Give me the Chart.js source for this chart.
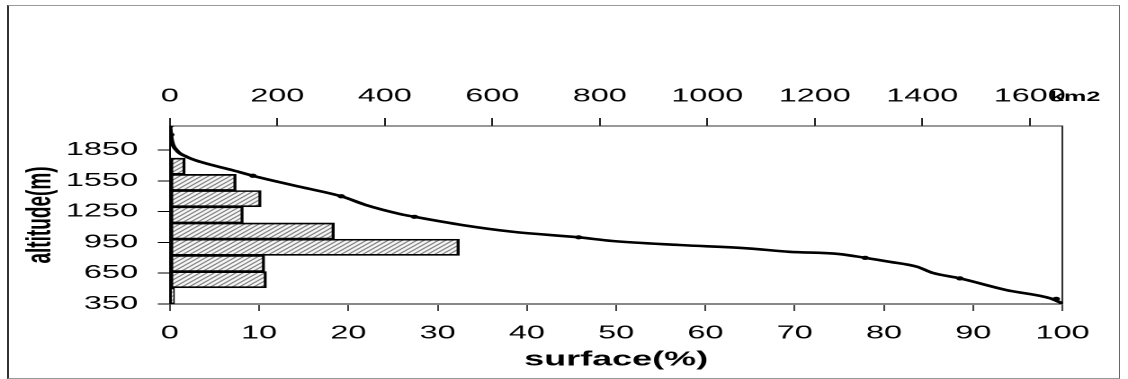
<!DOCTYPE html>
<html>
<head>
<meta charset="utf-8">
<script src="https://cdn.jsdelivr.net/npm/chart.js@4.4.1/dist/chart.umd.min.js"></script>
<style>
  html, body { margin: 0; padding: 0; background: #fff; overflow: hidden; }
  #wrap { position: relative; width: 1128px; height: 379px; }
  /* the original figure is stretched sideways, so the canvas is too */
  #chartHypso { position: absolute; left: 0; top: 0; transform: scaleX(1.79904); transform-origin: 0 0; }
  #frame {
    position: absolute; left: 7px; top: 5px; width: 1113px; height: 374px; box-sizing: border-box;
    border: 1px solid #999; border-left: 2px solid #333; border-right-color: #666; pointer-events: none;
  }
</style>
</head>
<body>
<div id="wrap">
  <canvas id="chartHypso" width="627" height="379"></canvas>
  <div id="frame"></div>
</div>
<script>
// histogram: mid altitude of each band (m) and share of surface (%)
const BAND_ALT = [429, 587, 745, 903, 1061, 1219, 1377, 1535, 1693];
const BAND_PCT = [0.5, 10.8, 10.6, 32.4, 18.4, 8.2, 10.2, 7.4, 1.7];

// hypsometric curve: cumulated surface (%) above altitude (m)
const CURVE_PCT = [0, 0.2, 0.75, 1.9, 3.4, 7.0, 9.3, 14.6, 19.2, 22.0, 25.8, 27.4, 32.8, 38.4,
  45.8, 49.6, 57.1, 64.6, 69.4, 75.0, 77.9, 80.6, 83.7, 85.4, 88.5, 93.7, 98.6, 100];
const CURVE_ALT = [2085, 1947, 1850, 1785, 1736, 1655, 1600, 1492, 1400, 1314, 1227, 1200, 1119, 1054,
  1000, 964, 925, 893, 859, 837, 800, 762, 713, 655, 600, 486, 406, 355];

// measured points shown as dots on the curve
const MARK_PCT = [0, 0.1, 9.3, 19.2, 27.4, 45.8, 77.9, 88.5, 99.3, 100];
const MARK_ALT = [2085, 2000, 1600, 1400, 1200, 1000, 800, 600, 400, 355];

const ALT_TICKS = [350, 650, 950, 1250, 1550, 1850];
const PCT_TICKS = [0, 10, 20, 30, 40, 50, 60, 70, 80, 90, 100];
const KM2_TICKS = [0, 200, 400, 600, 800, 1000, 1200, 1400, 1600];
const TOTAL_KM2 = 1661;
const ALT_MIN = 350;
const ALT_MAX = 2085;
const TOP_UNIT = "km2";

const FONT = '"Liberation Sans", Arial, sans-serif';

function makeHatch() {
  const c = document.createElement("canvas");
  c.width = 4; c.height = 4;
  const g = c.getContext("2d");
  g.fillStyle = "#fff";
  g.fillRect(0, 0, 4, 4);
  g.strokeStyle = "#3a3a3a";
  g.lineWidth = 1;
  g.beginPath();
  g.moveTo(-1, 5); g.lineTo(5, -1);
  g.moveTo(-1, 1); g.lineTo(1, -1);
  g.moveTo(3, 5); g.lineTo(5, 3);
  g.stroke();
  return g.createPattern(c, "repeat");
}

function setTicks(list) {
  return scale => { scale.ticks = list.map(v => ({ value: v })); };
}

const plain = v => String(v);

// "km2" next to the last top tick
const unitLabel = {
  id: "unitLabel",
  afterDraw(chart) {
    const s = chart.scales.x2;
    const ctx = chart.ctx;
    ctx.save();
    ctx.font = "bold 14px " + FONT;
    ctx.fillStyle = "#000";
    ctx.textAlign = "left";
    ctx.textBaseline = "alphabetic";
    ctx.fillText(TOP_UNIT, s.right - 7, s.bottom - 25);
    ctx.restore();
  }
};

Chart.defaults.font.family = FONT;
Chart.defaults.color = "#000";

const canvas = document.getElementById("chartHypso");

new Chart(canvas, {
  type: "line",
  data: {
    datasets: [
      {
        type: "line",
        label: "marks",
        data: MARK_PCT.map((p, i) => ({ x: p, y: MARK_ALT[i] })),
        showLine: false,
        pointRadius: 1.6,
        pointBackgroundColor: "#000",
        pointBorderColor: "#000",
        xAxisID: "x",
        yAxisID: "y",
        order: 1
      },
      {
        type: "line",
        label: "curve",
        data: CURVE_PCT.map((p, i) => ({ x: p, y: CURVE_ALT[i] })),
        borderColor: "#000",
        borderWidth: 2.6,
        pointRadius: 0,
        cubicInterpolationMode: "monotone",
        fill: false,
        xAxisID: "x",
        yAxisID: "y",
        order: 2
      },
      {
        type: "bar",
        label: "bands",
        indexAxis: "y",
        data: BAND_PCT.map((p, i) => ({ x: p, y: BAND_ALT[i] })),
        backgroundColor: makeHatch(),
        borderColor: "#000",
        borderWidth: 1.7,
        borderSkipped: false,
        categoryPercentage: 1,
        barPercentage: 1,
        xAxisID: "x",
        yAxisID: "y",
        order: 3
      }
    ]
  },
  options: {
    responsive: false,
    devicePixelRatio: 2,
    animation: false,
    layout: { padding: { left: 0, top: 0, bottom: 0, right: 36.4 } },
    plugins: {
      legend: { display: false },
      tooltip: { enabled: false }
    },
    scales: {
      x: {
        type: "linear",
        position: "bottom",
        min: 0,
        max: 100,
        offset: false,
        afterBuildTicks: setTicks(PCT_TICKS),
        afterFit: s => { s.height = 75; },
        grid: { drawOnChartArea: false, offset: false, tickLength: 7, color: "#444" },
        border: { color: "#888", width: 2 },
        ticks: { font: { size: 18 }, padding: 11.7, maxRotation: 0, autoSkip: false, callback: plain },
        title: { display: true, text: "surface(%)", font: { size: 20, weight: "bold" }, padding: { top: 0, bottom: 7 } }
      },
      x2: {
        type: "linear",
        position: "top",
        min: 0,
        max: TOTAL_KM2,
        offset: false,
        afterBuildTicks: setTicks(KM2_TICKS),
        afterFit: s => { s.height = 126; },
        grid: { drawOnChartArea: false, offset: false, tickLength: 8, color: "#222" },
        border: { color: "#333", width: 1 },
        ticks: { font: { size: 18 }, padding: 10.7, maxRotation: 0, autoSkip: false, callback: plain }
      },
      y: {
        type: "linear",
        position: "left",
        min: ALT_MIN,
        max: ALT_MAX,
        offset: false,
        afterBuildTicks: setTicks(ALT_TICKS),
        afterFit: s => { s.width = 94.4; },
        grid: { drawOnChartArea: false, offset: false, tickLength: 6.7, color: "#000" },
        border: { color: "#000", width: 1 },
        ticks: { font: { size: 18 }, padding: 11, autoSkip: false, callback: plain },
        title: { display: true, text: "altitude(m)", font: { size: 19, weight: "bold" }, padding: { top: 11.6, bottom: 0 } }
      },
      y2: {
        type: "linear",
        position: "right",
        min: ALT_MIN,
        max: ALT_MAX,
        offset: false,
        afterFit: s => { s.width = 0; },
        grid: { drawOnChartArea: false, offset: false, drawTicks: false },
        border: { color: "#333", width: 1 },
        ticks: { display: false }
      }
    }
  },
  plugins: [unitLabel]
});
</script>
</body>
</html>
